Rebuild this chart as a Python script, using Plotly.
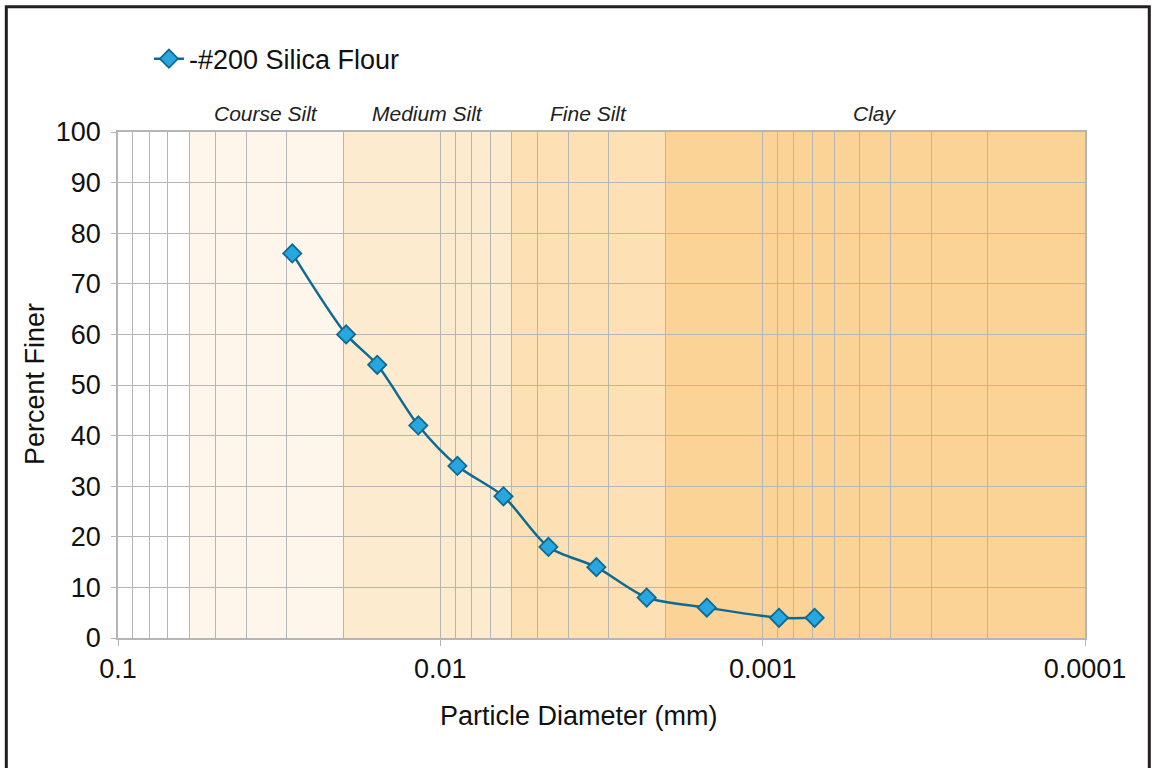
import numpy as np
import plotly.graph_objects as go

# Grain-size distribution of -#200 silica flour
diameter_mm = [0.0288, 0.0196, 0.0157, 0.0117, 0.00885, 0.00637,
               0.00462, 0.00328, 0.00229, 0.00149, 0.00089, 0.00069]
percent_finer = [76, 60, 54, 42, 34, 28, 18, 14, 8, 6, 4, 4]
series_name = "-#200 Silica Flour"

# Soil classification bands (upper and lower diameter, mm)
band_names = ["Course Silt", "Medium Silt", "Fine Silt", "Clay"]
band_upper = [0.06, 0.02, 0.006, 0.002]
band_lower = [0.02, 0.006, 0.002, 0.0001]

x_tick_values = [0.1, 0.01, 0.001, 0.0001]
x_tick_labels = ["0.1", "0.01", "0.001", "0.0001"]

x_title = "Particle Diameter (mm)"
y_title = "Percent Finer"

band_colors = ["#fef6ea", "#fdebd0", "#fde0b4", "#fbd397"]
grid_color = "#b5b5b5"
line_color = "#0f6a92"
marker_fill = "#27a6df"
text_color = "#111111"
font_family = "Liberation Sans, Arial, Helvetica, sans-serif"

# minor gridlines at every 2..9 multiple within each decade
minor_vals = [m * 10.0 ** e for e in range(-4, -1) for m in range(2, 10)]

fig = go.Figure()

fig.add_trace(go.Scatter(
    x=diameter_mm, y=percent_finer, name=series_name,
    mode="lines+markers",
    line=dict(color=line_color, width=2.5, shape="spline", smoothing=0.8),
    marker=dict(symbol="diamond", size=14, color=marker_fill,
                line=dict(color=line_color, width=1.8)),
))

for name, hi, lo, col in zip(band_names, band_upper, band_lower, band_colors):
    fig.add_shape(type="rect", xref="x", yref="paper", x0=hi, x1=lo,
                  y0=0, y1=1, fillcolor=col, line=dict(width=0), layer="below")
    fig.add_annotation(text=name, xref="x", yref="paper",
                       x=(np.log10(hi) + np.log10(lo)) / 2, y=1.036,
                       xanchor="center", yanchor="middle", showarrow=False,
                       font=dict(family=font_family, size=21, color="#222222",
                                 style="italic"))

# axis titles
fig.add_annotation(text=x_title, xref="paper", yref="paper", x=0.4767, y=-0.154,
                   xanchor="center", yanchor="middle", showarrow=False,
                   font=dict(family=font_family, size=27, color=text_color))
fig.add_annotation(text=y_title, xref="paper", yref="paper", x=-0.0858, y=0.502,
                   xanchor="center", yanchor="middle", showarrow=False,
                   textangle=-90,
                   font=dict(family=font_family, size=27, color=text_color))

# outer frame around the whole figure
fig.add_shape(type="rect", xref="paper", yref="paper",
              x0=-0.1155, x1=1.0665, y0=-0.6, y1=1.2475,
              line=dict(color="#231f20", width=3), fillcolor="rgba(0,0,0,0)")

fig.update_xaxes(
    type="log", range=[np.log10(0.1), np.log10(0.0001)],
    tickvals=x_tick_values, ticktext=x_tick_labels,
    ticks="outside", ticklen=6, tickcolor=grid_color,
    showgrid=True, gridcolor=grid_color, gridwidth=1,
    minor=dict(tickvals=minor_vals, showgrid=True, gridcolor=grid_color,
               gridwidth=1, ticks=""),
    showline=True, linecolor=grid_color, linewidth=1.5, mirror=True,
    tickfont=dict(family=font_family, size=27, color=text_color),
    zeroline=False,
)
fig.update_yaxes(
    range=[0, 100], dtick=10,
    ticks="outside", ticklen=5, tickcolor=grid_color,
    showgrid=True, gridcolor=grid_color, gridwidth=1,
    showline=True, linecolor=grid_color, linewidth=1.5, mirror=True,
    tickfont=dict(family=font_family, size=27, color=text_color),
    ticklabelstandoff=5,
    zeroline=False,
)

fig.update_layout(
    width=1152, height=768,
    margin=dict(l=118, r=67, t=132, b=130),
    paper_bgcolor="white", plot_bgcolor="white",
    showlegend=True,
    legend=dict(x=0.032, y=1.144, xanchor="left", yanchor="middle",
                font=dict(family=font_family, size=27, color=text_color),
                bgcolor="rgba(0,0,0,0)", itemwidth=30),
    font=dict(family=font_family),
)

fig.write_html("out.html")
